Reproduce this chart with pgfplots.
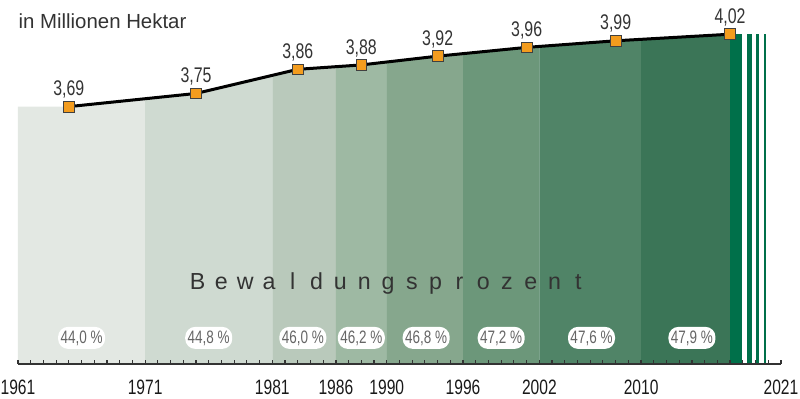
\documentclass[border=0pt]{standalone}
\usepackage{fontspec}
\setmainfont{Liberation Sans}
\newfontfamily\cond{Liberation Sans}[FakeStretch=0.75]
\usepackage{pgfplots}
\pgfplotsset{compat=1.18}
\usepgfplotslibrary{fillbetween}
\definecolor{bA}{HTML}{E3E8E3}
\definecolor{bB}{HTML}{CFDAD1}
\definecolor{bC}{HTML}{B9C9BB}
\definecolor{bD}{HTML}{9EB9A3}
\definecolor{bE}{HTML}{86A78D}
\definecolor{bF}{HTML}{6C977A}
\definecolor{bG}{HTML}{508467}
\definecolor{bH}{HTML}{3B7557}
\definecolor{dg}{HTML}{00704A}
\definecolor{mk}{HTML}{F39C1E}
\definecolor{txt}{HTML}{333333}
\definecolor{pct}{HTML}{666666}
\newcommand\LL[1]{\makebox[11.9pt]{#1}}
\begin{document}
\begin{tikzpicture}
\begin{axis}[
  at={(0,0)}, anchor=south west,
  scale only axis, width=381.5pt, height=182pt,
  xmin=1961, xmax=2021, ymin=2.517, ymax=4.176,
  axis y line=none, axis x line*=bottom,
  clip=false, axis on top,
  xtick={1961,1971,1981,1986,1990,1996,2002,2010,2021},
  xticklabels={1961,1971,1981,1986,1990,1996,2002,2010,2021},
  minor xtick={1961,1962,...,2021},
  tick align=inside,
  major tick length=2pt, minor tick length=2pt,
  every tick/.style={color=black!80, line width=0.6pt},
  x axis line style={black!80, line width=0.8pt},
  xticklabel style={anchor=base, inner sep=0pt, yshift=-15.5pt,
    font=\cond\fontsize{10.4}{12}\selectfont, text=black!90},
]
% area outline (invisible) and base
\addplot[draw=none, name path=top, forget plot] coordinates {
  (1961,3.69) (1965,3.69) (1975,3.75) (1983,3.86) (1988,3.88)
  (1994,3.92) (2001,3.96) (2008,3.99) (2017,4.02)};
\addplot[draw=none, name path=base, forget plot] coordinates {(1961,2.517) (2017,2.517)};
\addplot[fill=bA, draw=none] fill between[of=top and base, soft clip={domain=1961:1971}];
\addplot[fill=bB, draw=none] fill between[of=top and base, soft clip={domain=1971:1981}];
\addplot[fill=bC, draw=none] fill between[of=top and base, soft clip={domain=1981:1986}];
\addplot[fill=bD, draw=none] fill between[of=top and base, soft clip={domain=1986:1990}];
\addplot[fill=bE, draw=none] fill between[of=top and base, soft clip={domain=1990:1996}];
\addplot[fill=bF, draw=none] fill between[of=top and base, soft clip={domain=1996:2002}];
\addplot[fill=bG, draw=none] fill between[of=top and base, soft clip={domain=2002:2010}];
\addplot[fill=bH, draw=none] fill between[of=top and base, soft clip={domain=2010:2017}];
% dark band and stripes
\addplot[fill=dg, draw=none] coordinates {(2017,4.02) (2017.9,4.02)} \closedcycle;
\addplot[fill=dg, draw=none] coordinates {(2018.3,4.02) (2018.7,4.02)} \closedcycle;
\addplot[fill=dg, draw=none] coordinates {(2019.0,4.02) (2019.3,4.02)} \closedcycle;
\addplot[fill=dg, draw=none] coordinates {(2019.7,4.02) (2019.85,4.02)} \closedcycle;
% percentage labels
\addplot[draw=none, mark=none, nodes near coords, point meta=explicit symbolic,
  every node near coord/.style={anchor=center, fill=white, rounded corners=5pt,
    inner sep=1.2pt, minimum height=11pt, minimum width=23.5pt,
    font=\cond\fontsize{9}{10}\selectfont, text=pct}]
  coordinates {
  (1966,2.636) [44,0 \%]
  (1976,2.636) [44,8 \%]
  (1983.4,2.636) [46,0 \%]
  (1988,2.636) [46,2 \%]
  (1993.1,2.636) [46,8 \%]
  (1999,2.636) [47,2 \%]
  (2006.1,2.636) [47,6 \%]
  (2014,2.636) [47,9 \%]
};
% main line with markers
\addplot[black, line width=1.5pt, mark=square*,
  mark options={fill=mk, draw=black!75, line width=0.4pt, solid}, mark size=2.7pt,
  nodes near coords, point meta=explicit symbolic,
  every node near coord/.style={anchor=base, yshift=5.4pt, inner sep=0pt,
    font=\cond\fontsize{10.6}{12}\selectfont, text=txt}]
  coordinates {
  (1965,3.69) [3,69]
  (1975,3.75) [3,75]
  (1983,3.86) [3,86]
  (1988,3.88) [3,88]
  (1994,3.92) [3,92]
  (2001,3.96) [3,96]
  (2008,3.99) [3,99]
  (2017,4.02) [4,02]
};
\node[anchor=base, inner sep=0pt, font=\fontsize{11.6}{13}\selectfont, text=txt]
  at (axis cs:1990.1,2.855)
  {\LL{B}\LL{e}\LL{w}\LL{a}\LL{l}\LL{d}\LL{u}\LL{n}\LL{g}\LL{s}\LL{p}\LL{r}\LL{o}\LL{z}\LL{e}\LL{n}\LL{t}};
\end{axis}
\node[anchor=base west, inner sep=0pt, font=\fontsize{10.2}{12}\selectfont, text=txt]
  at (0.1pt,167.9pt) {in Millionen Hektar};
\pgfresetboundingbox
\useasboundingbox (-9pt,-17.5pt) rectangle (391pt,182pt);
\end{tikzpicture}
\end{document}
